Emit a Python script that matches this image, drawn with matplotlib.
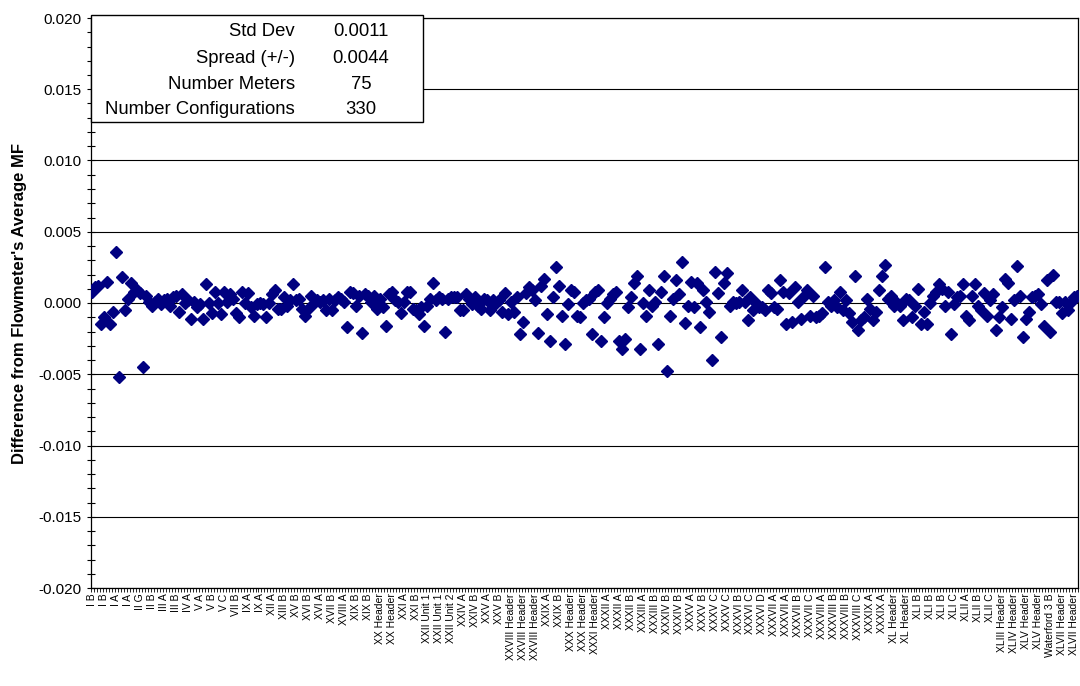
import numpy as np
import matplotlib
matplotlib.use("Agg")
import matplotlib.pyplot as plt
from matplotlib.patches import Rectangle
from matplotlib.ticker import MultipleLocator, FixedLocator

plt.rcParams['font.family'] = ['Liberation Sans', 'DejaVu Sans']

# category labels, one every 4th configuration
labels = [
    "I B", "I B", "I A", "I A", "II G", "II B", "III A", "III B", "IV A", "V A",
    "V B", "V C", "VII B", "IX A", "IX A", "XII A", "XIII B", "XV B", "XVI B", "XVI A",
    "XVII B", "XVIII A", "XIX B", "XIX B", "XX Header", "XX Header", "XXI A", "XXI B",
    "XXII Unit 1", "XXII Unit 1", "XXII Unit 2", "XXIV A", "XXIV B", "XXV A", "XXV B",
    "XXVIII Header", "XXVIII Header", "XXVIII Header", "XXIX A", "XXIX B",
    "XXX Header", "XXX Header", "XXXI Header", "XXXII A", "XXXII A", "XXXII B",
    "XXXIII A", "XXXIII B", "XXXIV B", "XXXIV B", "XXXV A", "XXXV B", "XXXV C", "XXXV C",
    "XXXVI B", "XXXVI C", "XXXVI D", "XXXVII A", "XXXVII A", "XXXVII B", "XXXVII C",
    "XXXVIII A", "XXXVIII B", "XXXVIII B", "XXXVIII C", "XXXIX A", "XXXIX A",
    "XL Header", "XL Header", "XLI B", "XLI B", "XLI B", "XLI C", "XLII A", "XLII B",
    "XLII C", "XLIII Header", "XLIV Header", "XLV Header", "XLV Header",
    "Waterford 3 B", "XLVII Header", "XLVII Header",
]

# difference from the flowmeter's average MF, per configuration
diff_a = [
    0.0008, 0.0011, 0.0012, -0.0015, -0.0010, 0.0015, -0.0015, -0.0006, 0.0036, -0.0052,
    0.0018, -0.0005, 0.0003, 0.0014, 0.0008, 0.0009, 0.0007, -0.0045, 0.0005, 0.0001,
    -0.0002, 0.0001, 0.0003, -0.0001, 0.0002, 0.0003, -0.0002, 0.0004, 0.0005, -0.0006,
    0.0006, 0.0000, 0.0002, -0.0011, 0.0001, -0.0003, -0.0001, -0.0011, 0.0013, 0.0000,
    -0.0007, 0.0008, 0.0000, -0.0008, 0.0008, 0.0001, 0.0006, 0.0003, -0.0007, -0.0010,
    0.0008, 0.0000, 0.0007, -0.0003, -0.0009, -0.0001, 0.0000, -0.0001, -0.0010, 0.0000,
    0.0006, 0.0009, -0.0004, -0.0004, 0.0004, -0.0002, 0.0002, 0.0013, 0.0002, 0.0003,
    -0.0004, -0.0009, -0.0004, 0.0005, 0.0000, 0.0002, 0.0001, 0.0002, -0.0005, 0.0003,
]
diff_b = [
    -0.0005, 0.0002, 0.0004, 0.0003, 0.0001, -0.0017, 0.0008, 0.0007, -0.0002, 0.0005,
    -0.0021, 0.0006, 0.0005, 0.0001, 0.0005, -0.0004, 0.0003, -0.0003, -0.0016, 0.0006,
    0.0008, 0.0002, 0.0001, -0.0007, 0.0001, 0.0008, 0.0008, -0.0004, -0.0005, -0.0008,
    -0.0003, -0.0016, -0.0002, 0.0003, 0.0014, 0.0002, 0.0004, 0.0003, -0.0020, 0.0003,
    0.0004, 0.0004, 0.0004, -0.0005, -0.0005, 0.0006, 0.0003, -0.0001, 0.0004, -0.0002,
    -0.0004, 0.0003, 0.0002, -0.0005, 0.0002, 0.0000, 0.0002, -0.0006, 0.0007, -0.0008,
    0.0001, -0.0006, 0.0004, -0.0022, -0.0013, 0.0007, 0.0011, 0.0009, 0.0002, -0.0021,
    0.0012, 0.0017, -0.0008, -0.0027, 0.0004, 0.0025, 0.0012, -0.0009, -0.0029, -0.0001,
    0.0009, 0.0008, -0.0009, -0.0010, 0.0000,
]
diff_c = [
    0.0002, 0.0003, -0.0022, 0.0008, 0.0009, -0.0027, -0.0010, 0.0000, 0.0003, 0.0006,
    0.0008, -0.0027, -0.0032, -0.0025, -0.0003, 0.0004, 0.0014, 0.0019, -0.0032, 0.0000,
    -0.0009, 0.0009, -0.0002, 0.0001, -0.0029, 0.0008, 0.0019, -0.0048, -0.0009, 0.0003,
    0.0016, 0.0006, 0.0029, -0.0014, -0.0002, 0.0015, -0.0003, 0.0014, -0.0017, 0.0009,
    0.0001, -0.0006, -0.0040, 0.0022, 0.0007, -0.0024, 0.0014, 0.0021, -0.0002, 0.0001,
    0.0000, 0.0001, 0.0009, 0.0001, -0.0012, 0.0004, -0.0005, 0.0000, -0.0003, -0.0003,
    -0.0005, 0.0009, 0.0007, -0.0003, -0.0004, 0.0016, 0.0008, -0.0015, 0.0007, -0.0013,
    0.0011, 0.0001, -0.0011, 0.0005, 0.0009, -0.0009, 0.0005, -0.0010, -0.0009, -0.0007,
    0.0025, 0.0001, -0.0002, 0.0002,
]
diff_d = [
    -0.0003, 0.0008, -0.0005, 0.0002, -0.0007, -0.0013, 0.0019, -0.0019, -0.0012, -0.0010,
    0.0003, -0.0004, -0.0012, -0.0006, 0.0009, 0.0019, 0.0027, 0.0003, 0.0005, -0.0002,
    0.0000, -0.0002, -0.0012, 0.0003, 0.0002, -0.0010, -0.0002, 0.0010, -0.0015, -0.0006,
    -0.0015, 0.0000, 0.0005, 0.0008, 0.0013, 0.0010, -0.0002, 0.0008, -0.0022, -0.0001,
    0.0004, 0.0005, 0.0013, -0.0009, -0.0012, 0.0005, 0.0013, -0.0002, -0.0005, 0.0007,
    -0.0009, 0.0002, 0.0006, -0.0019, -0.0010, -0.0003, 0.0017, 0.0014, -0.0011, 0.0002,
    0.0026, 0.0005, -0.0024, -0.0011, -0.0006, 0.0004, 0.0005, 0.0006, -0.0001, -0.0016,
    0.0016, -0.0020, 0.0020, 0.0001, 0.0001, -0.0007, 0.0001, -0.0005, 0.0001, 0.0004,
    0.0005,
]
diffs = np.array(diff_a + diff_b + diff_c + diff_d)

stat_names = ["Std Dev", "Spread (+/-)", "Number Meters", "Number Configurations"]
stat_values = ["0.0011", "0.0044", "75", "330"]

n = len(diffs)
x = np.arange(n)

fig = plt.figure(figsize=(10.8, 6.86), dpi=100)
ax = fig.add_axes([91 / 1080, 1 - 588 / 686, 987 / 1080, 570 / 686])

ax.plot(x, diffs, linestyle='none', marker='D', markersize=5.8,
        color='#000080', markeredgecolor='#000080', zorder=3)

ax.set_ylim(-0.020, 0.020)
ax.set_xlim(-0.5, n - 0.5)
ax.yaxis.set_major_locator(MultipleLocator(0.005))
ax.yaxis.set_minor_locator(MultipleLocator(0.001))
ax.yaxis.set_major_formatter(plt.FormatStrFormatter('%.3f'))
ax.grid(axis='y', which='major', color='black', linewidth=0.8)
ax.set_axisbelow(True)
ax.tick_params(axis='y', which='major', direction='inout', length=6, width=0.8,
               labelsize=11, pad=4)
ax.tick_params(axis='y', which='minor', direction='inout', length=6, width=0.8)

ax.xaxis.set_major_locator(FixedLocator(np.arange(len(labels)) * 4))
ax.set_xticklabels(labels, rotation=90, fontsize=7.5)
ax.xaxis.set_minor_locator(FixedLocator(np.arange(-0.5, n, 1)))
ax.tick_params(axis='x', which='major', length=0, pad=4)
ax.tick_params(axis='x', which='minor', direction='out', length=3, width=0.6)

for s in ax.spines.values():
    s.set_color('black')
    s.set_linewidth(0.9)

ax.set_ylabel("Difference from Flowmeter's Average MF", fontsize=12,
              fontweight='bold', labelpad=8)

# statistics box in the upper left corner
fig.add_artist(Rectangle((90.7 / 1080, 1 - 122 / 686), 332 / 1080, 107 / 686,
                         transform=fig.transFigure, facecolor='white',
                         edgecolor='black', linewidth=1.0, zorder=5))
row_y = [31.7, 58.3, 84.3, 110]
for name, val, yy in zip(stat_names, stat_values, row_y):
    fig.text(295 / 1080, 1 - yy / 686, name, ha='right', va='center',
             fontsize=13.3, zorder=6)
    fig.text(361 / 1080, 1 - yy / 686, val, ha='center', va='center',
             fontsize=13.3, zorder=6)

fig.savefig('out.png', dpi=100)
